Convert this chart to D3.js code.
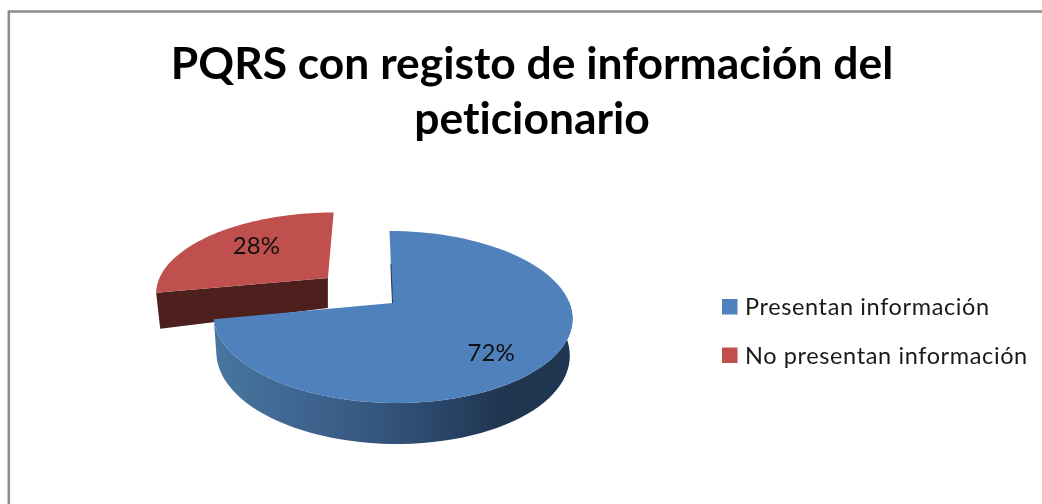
<!DOCTYPE html>
<html>
<head>
<meta charset="utf-8">
<script src="https://cdnjs.cloudflare.com/ajax/libs/d3/7.8.5/d3.min.js"></script>
<style>
html, body { margin: 0; padding: 0; background: white; }
svg { display: block; filter: blur(0.45px); }
text { font-family: Lato, "Open Sans", sans-serif; font-variant-ligatures: none; }
</style>
</head>
<body>
<div id="chart"></div>
<script>
// chart data
var categories = ["Presentan información", "No presentan información"];
var values = [72, 28];
var labels = ["72%", "28%"];
var colors = ["#4f81bd", "#c0504d"];
var titleLines = ["PQRS con registo de información del", "peticionario"];

var width = 1042, height = 504;

// layout of the fake 3d pie
var x0 = 392.5, y0 = 303;
var radiusX = 177, radiusY = 83.7;
var shear = 3.5;
var persp = 0.163;
var depth = 36;
var explode = 0.49;

// unit disc (u right, v toward viewer) to the screen
function project(u, v, drop) {
    var w = 1 - persp * v;
    return [
        x0 + (radiusX * u + shear * v) / w,
        y0 + radiusY * v / w + (drop || 0)
    ];
}

function rimPoint(a, r, off) {
    return [off[0] + r * Math.sin(a), off[1] - r * Math.cos(a)];
}

var svg = d3.select("#chart").append("svg")
    .attr("width", width)
    .attr("height", height);

//frame
svg.append("path")
    .attr("d", "M8.8,504V11.4H1042")
    .attr("fill", "none")
    .attr("stroke", "#8c8c8c")
    .attr("stroke-width", 2.5);

//title
svg.selectAll(".title")
    .data(titleLines)
    .enter().append("text")
    .attr("class", "title")
    .attr("x", 532)
    .attr("y", (d, i) => 79 + i * 55)
    .attr("text-anchor", "middle")
    .attr("font-size", 44.4)
    .attr("font-weight", 700)
    .attr("fill", "#000")
    .text(d => d);

var defs = svg.append("defs");
var sideGrad = defs.append("linearGradient")
    .attr("id", "sideBlue")
    .attr("gradientUnits", "userSpaceOnUse")
    .attr("x1", 215).attr("x2", 573).attr("y1", 0).attr("y2", 0);
sideGrad.append("stop").attr("offset", "0%").attr("stop-color", "#47769f");
sideGrad.append("stop").attr("offset", "30%").attr("stop-color", "#3d618c");
sideGrad.append("stop").attr("offset", "55%").attr("stop-color", "#2f4e74");
sideGrad.append("stop").attr("offset", "80%").attr("stop-color", "#1f3550");
sideGrad.append("stop").attr("offset", "100%").attr("stop-color", "#203751");

var pie = d3.pie().sort(null)(values);
var line = d3.line();

function slicePoints(d, off) {
    var pts = [];
    var n = 90;
    for (var i = 0; i <= n; i++) {
        var a = d.startAngle + (d.endAngle - d.startAngle) * i / n;
        pts.push(rimPoint(a, 1, off));
    }
    return pts;
}

function offsetFor(d) {
    if (d.index == 0) return [0, 0];
    var mid = (d.startAngle + d.endAngle) / 2;
    return [explode * Math.sin(mid), -explode * Math.cos(mid)];
}

//red first, the blue slice sits in front of it
[1, 0].forEach(function(idx) {
    var d = pie[idx];
    var off = offsetFor(d);
    var rim = slicePoints(d, off);
    var top = rim.map(p => project(p[0], p[1], 0));
    var face = [project(off[0], off[1], 0)].concat(top);

    if (idx == 1) {
        // cut wall that faces the viewer
        var a = rim[0];
        var corner = project(a[0], a[1], 36);
        svg.append("path")
            .attr("d", line([
                project(a[0], a[1], 0),
                project(off[0], off[1], 0),
                project(off[0], off[1], 30),
                [corner[0] + 4, corner[1]]
            ]) + "Z")
            .attr("fill", "#4d1f1d");
    } else {
        // rim wall
        var front = rim.filter(p => p[1] > -0.02);
        var upper = front.map(p => project(p[0], p[1], 0));
        var lower = front.map(p => project(p[0] * 0.985, p[1], depth + 5 * p[1])).reverse();
        svg.append("path")
            .attr("d", line(upper.concat(lower)) + "Z")
            .attr("fill", "url(#sideBlue)");
    }

    svg.append("path")
        .attr("d", line(face) + "Z")
        .attr("fill", colors[idx]);

    if (idx == 0) {
        // thin dark sliver on the cut by the gap
        svg.append("path")
            .attr("d", line([project(0, -0.5, 0), project(0, 0, 0)]))
            .attr("fill", "none")
            .attr("stroke", "#1f3550")
            .attr("stroke-width", 1);
    }
});

//percentage labels
var labelRadius = [0.78, 0.55];
var labelNudge = [[-19, 5], [-6, -7]];
svg.selectAll(".pct")
    .data(pie)
    .enter().append("text")
    .attr("class", "pct")
    .attr("text-anchor", "middle")
    .attr("font-size", 24)
    .attr("fill", "#111")
    .attr("transform", function(d) {
        var off = offsetFor(d);
        var mid = (d.startAngle + d.endAngle) / 2;
        var p = rimPoint(mid, labelRadius[d.index], off);
        var s = project(p[0], p[1], 0);
        return "translate(" + (s[0] + labelNudge[d.index][0]) + "," + (s[1] + labelNudge[d.index][1] + 8) + ")";
    })
    .text((d, i) => labels[i]);

//legend
var legendY = d3.scalePoint().domain(categories).range([307, 355.5]);
var legend = svg.selectAll(".legend")
    .data(categories)
    .enter().append("g")
    .attr("class", "legend")
    .attr("transform", d => "translate(722," + legendY(d) + ")");
legend.append("rect")
    .attr("y", -8)
    .attr("width", 15.5)
    .attr("height", 15.5)
    .attr("fill", (d, i) => colors[i]);
legend.append("text")
    .attr("x", 23)
    .attr("y", 8)
    .attr("font-size", 23.5)
    .attr("letter-spacing", 0.62)
    .attr("fill", "#1a1a1a")
    .text(d => d);
</script>
</body>
</html>
